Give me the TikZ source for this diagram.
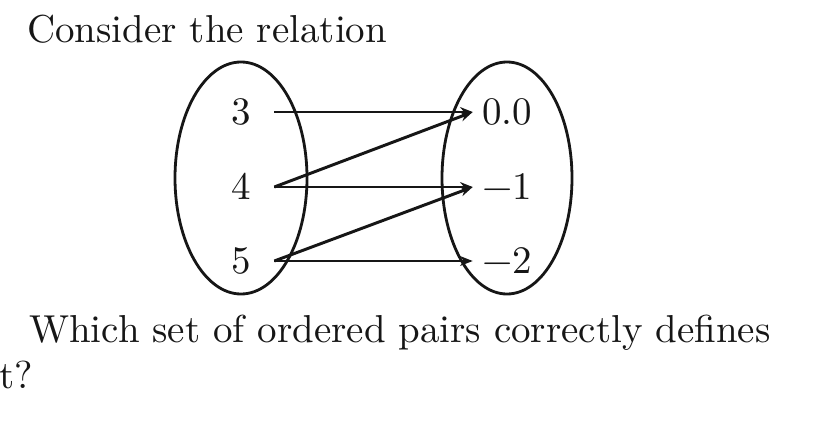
\documentclass[tikz,border=0pt]{standalone}
\usepackage{fontspec}
\setmainfont{lmroman10-regular}[Extension=.otf]
\usetikzlibrary{arrows.meta}
\definecolor{ink}{RGB}{22,22,22}
\newcommand{\bigtext}{\fontsize{27.7}{33.2}\selectfont}
\tikzset{
  elem/.style={font=\bigtext, text=ink, inner xsep=16.2pt, inner ysep=0pt,
              text height=17.8pt, text depth=0pt},
  imgelem/.style={elem, inner xsep=6.5pt},
  setring/.style={draw=ink, line width=2pt},
  mapto/.style={-{Stealth[length=9pt,width=7pt]}, draw=ink, line width=2.1pt},
  prose/.style={font=\bigtext, text=ink, anchor=base west, inner sep=0pt},
}
\begin{document}
\begin{tikzpicture}[x=0.025cm,y=-0.025cm]
    \useasboundingbox (0,0) rectangle (832,420);
    \node[prose] (intro) at (27,43) {Consider the relation};
    % the two sets
    \draw[setring] (241,178) ellipse [x radius=66, y radius=116];
    \draw[setring] (507,178) ellipse [x radius=65, y radius=116];
    \foreach \v/\y in {3/112,4/187,5/261}
      \node[elem] (dom\v) at (241.5,\y) {\v};
    \node[imgelem] (cod0) at (507,112) {0.0};
    \node[imgelem] (cod1) at (507,187) {−1};
    \node[imgelem] (cod2) at (507,261) {−2};
    % the pairs
    \draw[mapto] (dom3.east) -- (cod0.west);
    \draw[mapto] (dom4.east) -- (cod0.west);
    \draw[mapto] (dom4.east) -- (cod1.west);
    \draw[mapto] (dom5.east) -- (cod1.west);
    \draw[mapto] (dom5.east) -- (cod2.west);
    \node[prose] (ask) at (29,342) {Which set of ordered pairs correctly defines};
    \node[prose] (askend) at (-1,388) {t?};
  \end{tikzpicture}
\end{document}
